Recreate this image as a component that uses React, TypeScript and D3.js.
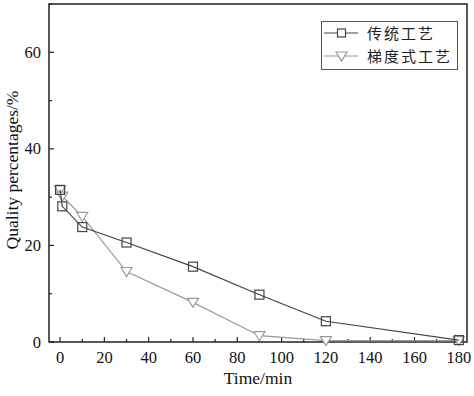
import React from 'react'
import * as d3 from 'd3'

const timeTrad = [0, 1, 10, 30, 60, 90, 120, 180]
const valTrad = [31.5, 28.1, 23.8, 20.6, 15.6, 9.8, 4.3, 0.4]
const timeGrad = [0, 1, 10, 30, 60, 90, 120, 180]
const valGrad = [31.5, 30.2, 26.0, 14.6, 8.2, 1.3, 0.3, 0.3]
const xTicks = [0, 20, 40, 60, 80, 100, 120, 140, 160, 180]
const yTicks = [0, 20, 40, 60]
const legendNames = ['传统工艺', '梯度式工艺']

const W = 474
const H = 396
const left = 49
const right = 467
const top = 4
const bottom = 342

export default function App() {
  const x = d3.scaleLinear().domain([-5, 183.7]).range([left, right])
  const y = d3.scaleLinear().domain([0, 70]).range([bottom, top])
  const line = d3
    .line<[number, number]>()
    .x(d => x(d[0]))
    .y(d => y(d[1]))
  const trad: [number, number][] = timeTrad.map((t, i) => [t, valTrad[i]])
  const grad: [number, number][] = timeGrad.map((t, i) => [t, valGrad[i]])
  const minorX = d3.range(0, 181, 10)
  const minorY = d3.range(0, 71, 10)
  const serif = '"Liberation Serif", "DejaVu Serif", serif'
  const cjk = '"Noto Sans CJK SC", sans-serif'
  const tri = (cx: number, cy: number) =>
    `M${cx - 5.5},${cy - 4} L${cx + 5.5},${cy - 4} L${cx},${cy + 5} Z`

  return (
    <svg
      width={W}
      height={H}
      style={{ position: 'absolute', left: 0, top: 0, background: '#fff' }}
    >
      {/* frame */}
      <rect x={left} y={top} width={right - left} height={bottom - top} fill="none" stroke="#222" strokeWidth={1.5} />

      {/* x ticks */}
      {minorX.map(v => (
        <line key={'mx' + v} x1={x(v)} x2={x(v)} y1={bottom} y2={bottom - (v % 20 === 0 ? 5 : 3)} stroke="#222" strokeWidth={1.2} />
      ))}
      {xTicks.map(v => (
        <text key={'tx' + v} x={x(v)} y={363} textAnchor="middle" fontFamily={serif} fontSize={16.5} fill="#111">
          {v}
        </text>
      ))}
      {/* y ticks */}
      {minorY.map(v => (
        <line key={'my' + v} x1={left} x2={left + (v % 20 === 0 ? 5 : 3)} y1={y(v)} y2={y(v)} stroke="#222" strokeWidth={1.2} />
      ))}
      {yTicks.map(v => (
        <text key={'ty' + v} x={41} y={y(v) + 5.5} textAnchor="end" fontFamily={serif} fontSize={16.5} fill="#111">
          {v}
        </text>
      ))}

      {/* axis titles */}
      <text x={258} y={384} textAnchor="middle" fontFamily={serif} fontSize={17.5} fill="#111">
        Time/min
      </text>
      <text transform={`translate(18,170) rotate(-90)`} textAnchor="middle" fontFamily={serif} fontSize={17.5} fill="#111">
        Quality percentages/%
      </text>

      {/* series */}
      <path d={line(grad) ?? ''} fill="none" stroke="#9a9a9a" strokeWidth={1.2} />
      {grad.map((d, i) => (
        <path key={'g' + i} d={tri(x(d[0]), y(d[1]))} fill="#fff" stroke="#9a9a9a" strokeWidth={1.2} />
      ))}
      <path d={line(trad) ?? ''} fill="none" stroke="#444" strokeWidth={1.2} />
      {trad.map((d, i) => (
        <rect key={'t' + i} x={x(d[0]) - 4.5} y={y(d[1]) - 4.5} width={9} height={9} fill="none" stroke="#444" strokeWidth={1.2} />
      ))}

      {/* legend */}
      <rect x={321.5} y={21.5} width={136} height={48} fill="#fff" stroke="#555" strokeWidth={1} />
      <line x1={324} x2={358} y1={33} y2={33} stroke="#444" strokeWidth={1.2} />
      <rect x={337.5} y={29} width={8} height={8} fill="#fff" stroke="#444" strokeWidth={1.2} />
      <text x={367} y={38.5} fontFamily={cjk} fontSize={15} letterSpacing={2} fill="#222">
        {legendNames[0]}
      </text>
      <line x1={324} x2={358} y1={56} y2={56} stroke="#9a9a9a" strokeWidth={1.2} />
      <path d={tri(341.5, 56)} fill="#fff" stroke="#9a9a9a" strokeWidth={1.2} />
      <text x={367} y={61.5} fontFamily={cjk} fontSize={15} letterSpacing={2} fill="#222">
        {legendNames[1]}
      </text>
    </svg>
  )
}
